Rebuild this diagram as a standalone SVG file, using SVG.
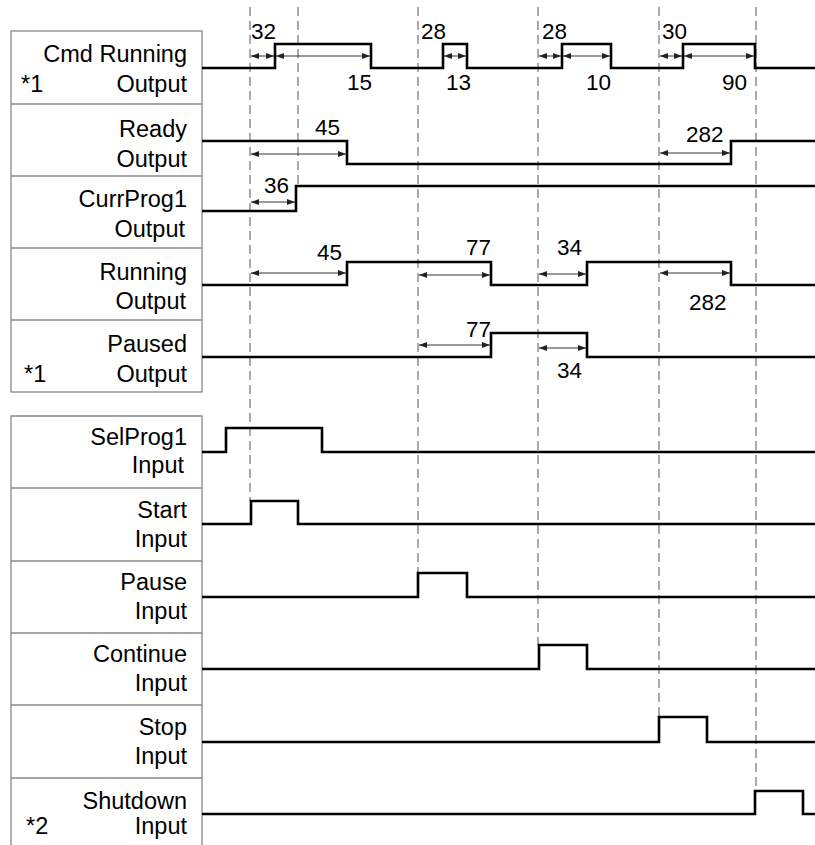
<svg xmlns="http://www.w3.org/2000/svg" width="815" height="845" viewBox="0 0 815 845">
<style>
.bg{fill:#fff}
.box{fill:none;stroke:#888;stroke-width:1.3}
.div{stroke:#888;stroke-width:1.3}
.lbl{font-family:"Liberation Sans",Arial,sans-serif;font-size:23.5px;fill:#000;text-anchor:end}
.note{font-family:"Liberation Sans",Arial,sans-serif;font-size:23.5px;fill:#000}
.num{font-family:"Liberation Sans",Arial,sans-serif;font-size:22.5px;fill:#000}
.sig{fill:none;stroke:#000;stroke-width:2.6;stroke-linejoin:miter}
.dash{fill:none;stroke:#555;stroke-width:1;stroke-dasharray:9,5}
.dim{fill:none;stroke:#333;stroke-width:1;marker-start:url(#ah);marker-end:url(#ah)}
</style>
<defs>
<marker id="ah" markerWidth="8" markerHeight="6" refX="8" refY="3" orient="auto-start-reverse" markerUnits="userSpaceOnUse">
<path d="M0,0 L8,3 L0,6 z" fill="#222"/>
</marker>
</defs>
<rect class="bg" x="0" y="0" width="815" height="845"/>

<g id="labels-outputs">
<rect class="box" x="11" y="31" width="191" height="361"/>
<line class="div" x1="11" y1="104" x2="202" y2="104"/>
<line class="div" x1="11" y1="176" x2="202" y2="176"/>
<line class="div" x1="11" y1="248" x2="202" y2="248"/>
<line class="div" x1="11" y1="320" x2="202" y2="320"/>
</g>
<g id="labels-inputs">
<path class="box" d="M11,846 V416 H202 V846"/>
<line class="div" x1="11" y1="488" x2="202" y2="488"/>
<line class="div" x1="11" y1="561" x2="202" y2="561"/>
<line class="div" x1="11" y1="633" x2="202" y2="633"/>
<line class="div" x1="11" y1="705" x2="202" y2="705"/>
<line class="div" x1="11" y1="778" x2="202" y2="778"/>
</g>

<g id="guides">
<line class="dash" x1="250" y1="7" x2="250" y2="501"/>
<line class="dash" x1="298" y1="7" x2="298" y2="186"/>
<line class="dash" x1="418" y1="7" x2="418" y2="573"/>
<line class="dash" x1="538" y1="7" x2="538" y2="645"/>
<line class="dash" x1="659" y1="7" x2="659" y2="717"/>
<line class="dash" x1="756" y1="7" x2="756" y2="791"/>
</g>

<g id="cmd-running">
<text class="lbl" x="187" y="62">Cmd Running</text>
<text class="lbl" x="187" y="92">Output</text>
<text class="note" x="21" y="92">*1</text>
<path class="sig" d="M202,68 H275 V44 H371 V68 H443 V44 H467 V68 H562 V44 H611 V68 H683 V44 H755 V68 H815"/>
</g>
<g id="ready">
<text class="lbl" x="187" y="137">Ready</text>
<text class="lbl" x="187" y="167">Output</text>
<path class="sig" d="M202,141 H347 V164 H731 V141 H815"/>
</g>
<g id="currprog1">
<text class="lbl" x="187" y="207">CurrProg1</text>
<text class="lbl" x="185" y="237">Output</text>
<path class="sig" d="M202,211 H296 V186 H815"/>
</g>
<g id="running">
<text class="lbl" x="187" y="280">Running</text>
<text class="lbl" x="186" y="309">Output</text>
<path class="sig" d="M202,285 H347 V262 H491 V285 H587 V262 H731 V285 H815"/>
</g>
<g id="paused">
<text class="lbl" x="187" y="352">Paused</text>
<text class="lbl" x="187" y="382">Output</text>
<text class="note" x="24" y="382">*1</text>
<path class="sig" d="M202,357 H491 V333 H587 V357 H815"/>
</g>

<g id="selprog1">
<text class="lbl" x="187" y="445">SelProg1</text>
<text class="lbl" x="184" y="473">Input</text>
<path class="sig" d="M202,452 H226 V428 H322 V452 H815"/>
</g>
<g id="start">
<text class="lbl" x="187" y="518">Start</text>
<text class="lbl" x="187" y="547">Input</text>
<path class="sig" d="M202,524 H251 V501 H298 V524 H815"/>
</g>
<g id="pause">
<text class="lbl" x="187" y="590">Pause</text>
<text class="lbl" x="187" y="619">Input</text>
<path class="sig" d="M202,597 H418 V573 H467 V597 H815"/>
</g>
<g id="continue">
<text class="lbl" x="187" y="662">Continue</text>
<text class="lbl" x="187" y="691">Input</text>
<path class="sig" d="M202,669 H539 V645 H587 V669 H815"/>
</g>
<g id="stop">
<text class="lbl" x="187" y="735">Stop</text>
<text class="lbl" x="187" y="764">Input</text>
<path class="sig" d="M202,742 H659 V717 H707 V742 H815"/>
</g>
<g id="shutdown">
<text class="lbl" x="187" y="809">Shutdown</text>
<text class="lbl" x="187" y="834">Input</text>
<text class="note" x="26" y="834">*2</text>
<path class="sig" d="M202,814 H755 V791 H803 V814 H815"/>
</g>

<g id="dimensions">
<line class="dim" x1="251" y1="56" x2="274" y2="56"/>
<line class="dim" x1="276" y1="56" x2="370" y2="56"/>
<line class="dim" x1="444" y1="56" x2="466" y2="56"/>
<line class="dim" x1="539" y1="56" x2="561" y2="56"/>
<line class="dim" x1="563" y1="56" x2="610" y2="56"/>
<line class="dim" x1="660" y1="56" x2="682" y2="56"/>
<line class="dim" x1="684" y1="56" x2="754" y2="56"/>
<line class="dim" x1="251" y1="154" x2="346" y2="154"/>
<line class="dim" x1="660" y1="153" x2="730" y2="153"/>
<line class="dim" x1="251" y1="202" x2="295" y2="202"/>
<line class="dim" x1="251" y1="273" x2="346" y2="273"/>
<line class="dim" x1="419" y1="275" x2="490" y2="275"/>
<line class="dim" x1="539" y1="274" x2="586" y2="274"/>
<line class="dim" x1="660" y1="273" x2="730" y2="273"/>
<line class="dim" x1="419" y1="345" x2="490" y2="345"/>
<line class="dim" x1="539" y1="348" x2="586" y2="348"/>
<text class="num" x="251" y="39">32</text>
<text class="num" x="347" y="90">15</text>
<text class="num" x="421" y="39">28</text>
<text class="num" x="446" y="90">13</text>
<text class="num" x="542" y="39">28</text>
<text class="num" x="586" y="90">10</text>
<text class="num" x="662" y="39">30</text>
<text class="num" x="722" y="90">90</text>
<text class="num" x="315" y="135">45</text>
<text class="num" x="686" y="142">282</text>
<text class="num" x="264" y="193">36</text>
<text class="num" x="317" y="260">45</text>
<text class="num" x="466" y="255">77</text>
<text class="num" x="557" y="255">34</text>
<text class="num" x="689" y="310">282</text>
<text class="num" x="466" y="337">77</text>
<text class="num" x="557" y="378">34</text>
</g>
</svg>
